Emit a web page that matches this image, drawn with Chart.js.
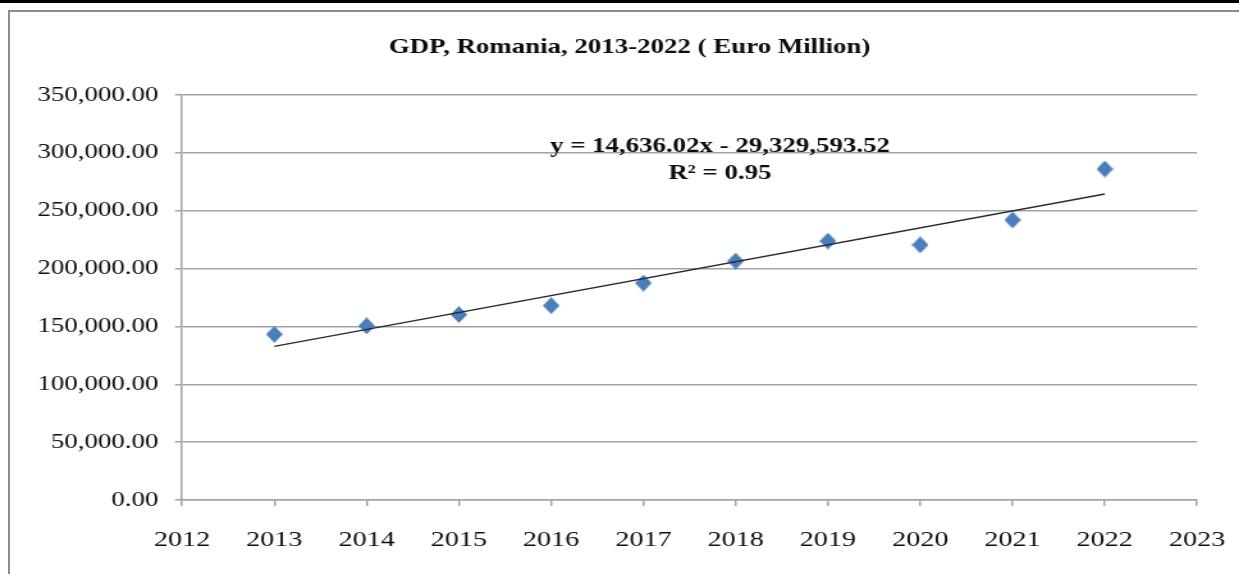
<!DOCTYPE html>
<html>
<head>
<meta charset="utf-8">
<title>GDP, Romania, 2013-2022</title>
<script src="https://cdn.jsdelivr.net/npm/chart.js@4.4.1/dist/chart.umd.min.js"></script>
<style>
	html, body { margin: 0; padding: 0; background: #fff; }
	body { width: 1239px; height: 574px; position: relative; overflow: hidden; }
	#top-rule { position: absolute; left: 0; top: 0; width: 100%; height: 3px; background: #000; }
	#frame { position: absolute; left: 8px; top: 10px; width: 1300px; height: 700px; border-left: 2px solid #8c8c8c; border-top: 2px solid #8c8c8c; }
	/* the chart is laid out narrow and widened, so the serif text comes out broad */
	#stretch { position: absolute; left: 0; top: 0; width: 968px; height: 574px; transform: scaleX(1.28); transform-origin: 0 0; }
</style>
</head>
<body>
<div id="top-rule"></div>
<div id="frame"></div>
<div id="stretch"><canvas id="gdp-chart" width="968" height="574"></canvas></div>
<script>
const years = [2013, 2014, 2015, 2016, 2017, 2018, 2019, 2020, 2021, 2022];
const gdp = [143200, 150500, 160300, 168000, 187500, 206500, 223800, 220500, 242000, 286000];
const xTickYears = [2012, 2013, 2014, 2015, 2016, 2017, 2018, 2019, 2020, 2021, 2022, 2023];
const yTickValues = [0, 50000, 100000, 150000, 200000, 250000, 300000, 350000];
const trendSlope = 14636.02;
const trendIntercept = -29329593.52;
const trendR2 = 0.95;
const titleText = "GDP, Romania, 2013-2022 ( Euro Million)";

const serif = "'Liberation Serif', 'Times New Roman', serif";
const textColor = "#0d0d0d";
const gridColor = "#a3a3a3";

const money = (v) => v.toLocaleString("en-US", { minimumFractionDigits: 2, maximumFractionDigits: 2 });
const trendAt = (x) => trendSlope * x + trendIntercept;
const eqText = "y = " + money(trendSlope) + "x - " + money(-trendIntercept);
const r2Text = "R\u00B2 = " + trendR2.toFixed(2);

// diamond marker, drawn narrower since the whole chart gets widened
function makeDiamond(w, h, color) {
	const c = document.createElement("canvas");
	c.width = w;
	c.height = h;
	const g = c.getContext("2d");
	g.fillStyle = color;
	g.beginPath();
	g.moveTo(w / 2, 0);
	g.lineTo(w, h / 2);
	g.lineTo(w / 2, h);
	g.lineTo(0, h / 2);
	g.closePath();
	g.fill();
	return c;
}
const diamond = makeDiamond(13, 17, "#4a7ebb");

const labels = {
	id: "labels",
	afterDatasetsDraw(chart) {
		const { ctx, chartArea, scales } = chart;
		ctx.save();
		ctx.fillStyle = textColor;
		ctx.textAlign = "center";
		ctx.textBaseline = "middle";
		ctx.font = "bold 21px " + serif;
		ctx.fillText(titleText, chartArea.left + chartArea.width * 0.441, 48);
		const lx = scales.x.getPixelForValue(2017.83);
		const ly = scales.y.getPixelForValue(305000);
		ctx.fillText(eqText, lx, ly);
		ctx.fillText(r2Text, lx, ly + 27);
		ctx.restore();
	},
};

const config = {
	type: "scatter",
	data: {
		datasets: [
			{
				type: "line",
				label: "Linear (GDP)",
				data: [years[0], years[years.length - 1]].map((x) => ({ x, y: trendAt(x) })),
				borderColor: "#2a2a2a",
				borderWidth: 1.3,
				pointRadius: 0,
				fill: false,
				order: 0,
			},
			{
				label: "GDP",
				data: years.map((x, i) => ({ x, y: gdp[i] })),
				pointStyle: diamond,
				pointRadius: 8,
				order: 1,
			},
		],
	},
	options: {
		responsive: false,
		devicePixelRatio: 1,
		animation: false,
		layout: { padding: { left: 0, right: 32.8, top: 95, bottom: 0 } },
		plugins: {
			legend: { display: false },
			tooltip: { enabled: false },
			title: { display: false },
		},
		scales: {
			x: {
				type: "linear",
				min: xTickYears[0],
				max: xTickYears[xTickYears.length - 1],
				afterBuildTicks: (scale) => { scale.ticks = xTickYears.map((value) => ({ value })); },
				afterFit: (scale) => {
					scale.height = 74;
					scale.paddingLeft = 0;
					scale.paddingRight = 0;
				},
				ticks: {
					callback: (v) => String(v),
					font: { family: serif, size: 22 },
					color: textColor,
					padding: 21,
					maxRotation: 0,
				},
				grid: { drawOnChartArea: false, tickLength: 6, color: gridColor, lineWidth: 1.5 },
				border: { color: gridColor, width: 1.5 },
			},
			y: {
				min: yTickValues[0],
				max: yTickValues[yTickValues.length - 1],
				afterBuildTicks: (scale) => { scale.ticks = yTickValues.map((value) => ({ value })); },
				afterFit: (scale) => {
					scale.width = 142.2;
					scale.paddingTop = 0;
					scale.paddingBottom = 0;
				},
				ticks: {
					callback: (v) => money(v),
					font: { family: serif, size: 21 },
					color: textColor,
					padding: 13,
				},
				grid: { tickLength: 5.5, color: gridColor, lineWidth: 1.5 },
				border: { color: gridColor, width: 1.5 },
			},
		},
	},
	plugins: [labels],
};

window.gdpChart = new Chart(document.getElementById("gdp-chart"), config);
</script>
</body>
</html>
